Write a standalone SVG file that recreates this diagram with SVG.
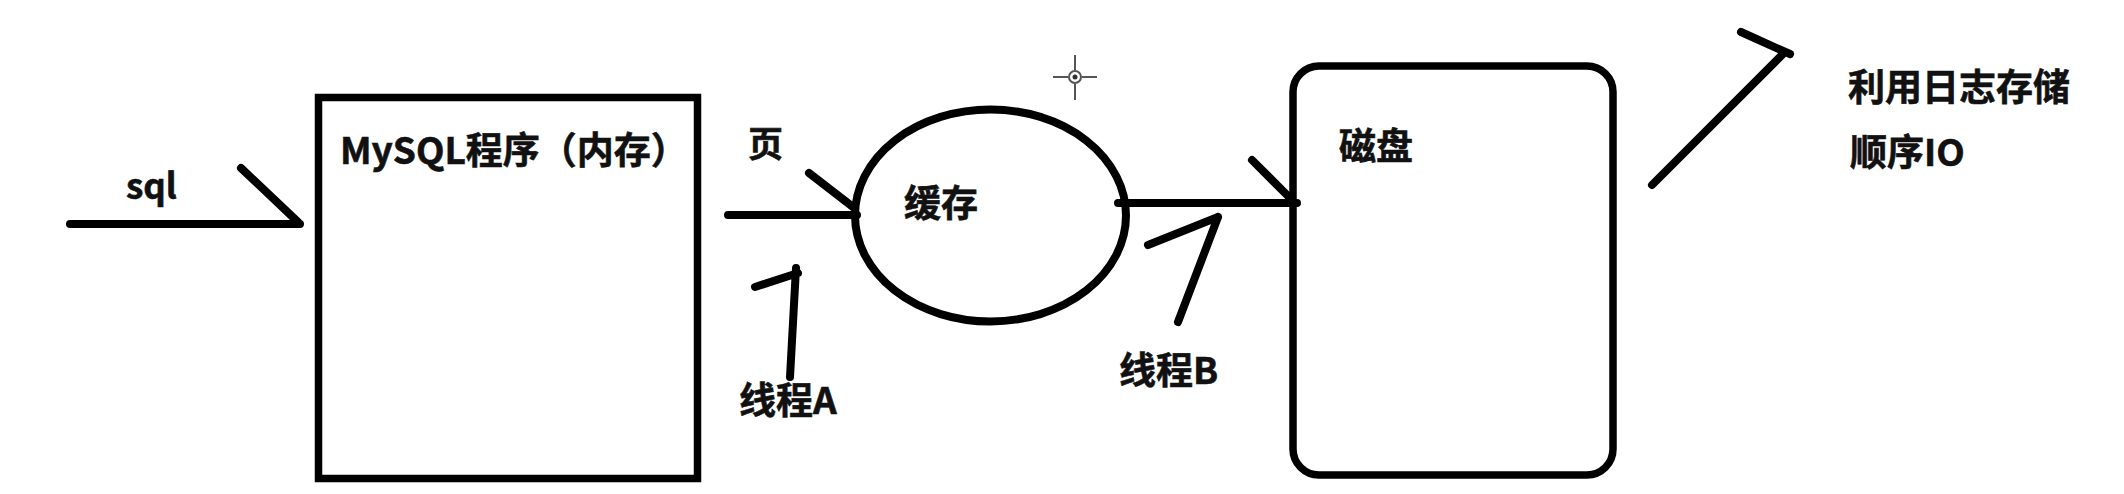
<svg xmlns="http://www.w3.org/2000/svg" width="2124" height="494" viewBox="0 0 2124 494">
<style>
.shape{fill:none;stroke:#000;stroke-width:7.5}
.ln{fill:none;stroke:#000;stroke-width:8;stroke-linecap:round;stroke-linejoin:round}
.t{font-family:"Noto Sans CJK SC","Noto Sans",sans-serif;font-weight:700;fill:#111;stroke:#111;stroke-width:0.6}
.cur{stroke:#555;stroke-width:2;fill:none}
</style>
<rect width="2124" height="494" fill="#fff"/>
<g id="mysql">
<rect class="shape" x="318.5" y="97.5" width="379" height="381"/>
<text class="t" x="340" y="164" font-size="37">MySQL程序（内存）</text>
</g>
<g id="cache">
<ellipse class="shape" cx="990.5" cy="215.5" rx="135.5" ry="106" style="stroke-width:8"/>
<text class="t" x="904" y="217" font-size="37">缓存</text>
</g>
<g id="disk">
<rect class="shape" x="1293" y="66" width="320" height="409" rx="26" ry="26"/>
<text class="t" x="1339" y="160" font-size="37">磁盘</text>
</g>
<g id="labels">
<text class="t" x="126" y="199" font-size="35">sql</text>
<text class="t" x="748" y="157" font-size="35">页</text>
<text class="t" x="739" y="414" font-size="37">线程A</text>
<text class="t" x="1119" y="384" font-size="37">线程B</text>
<text class="t" x="1848" y="101" font-size="37">利用日志存储</text>
<text class="t" x="1850" y="166" font-size="37">顺序IO</text>
</g>
<g id="connectors">
<path class="ln" d="M70 224 H300 M241 168 L298 222"/>
<path class="ln" d="M728 215 H857 M809 173 L853 207"/>
<path class="ln" d="M1118 203 H1297 M1252 160 L1292 200"/>
<path class="ln" d="M790 377 L796 268 M755 287 L798 273"/>
<path class="ln" d="M1178 322 L1218 217 M1148 245 L1218 217"/>
<path class="ln" d="M1652 185 L1784 53 M1741 32 L1790 54"/>
</g>
<g id="cursor">
<path class="cur" d="M1053 77 H1068 M1082 77 H1097 M1075 55 V70 M1075 84 V100"/>
<circle cx="1075" cy="77" r="6" fill="none" stroke="#555" stroke-width="2"/>
<circle cx="1075" cy="77" r="2.5" fill="#333"/>
</g>
</svg>
